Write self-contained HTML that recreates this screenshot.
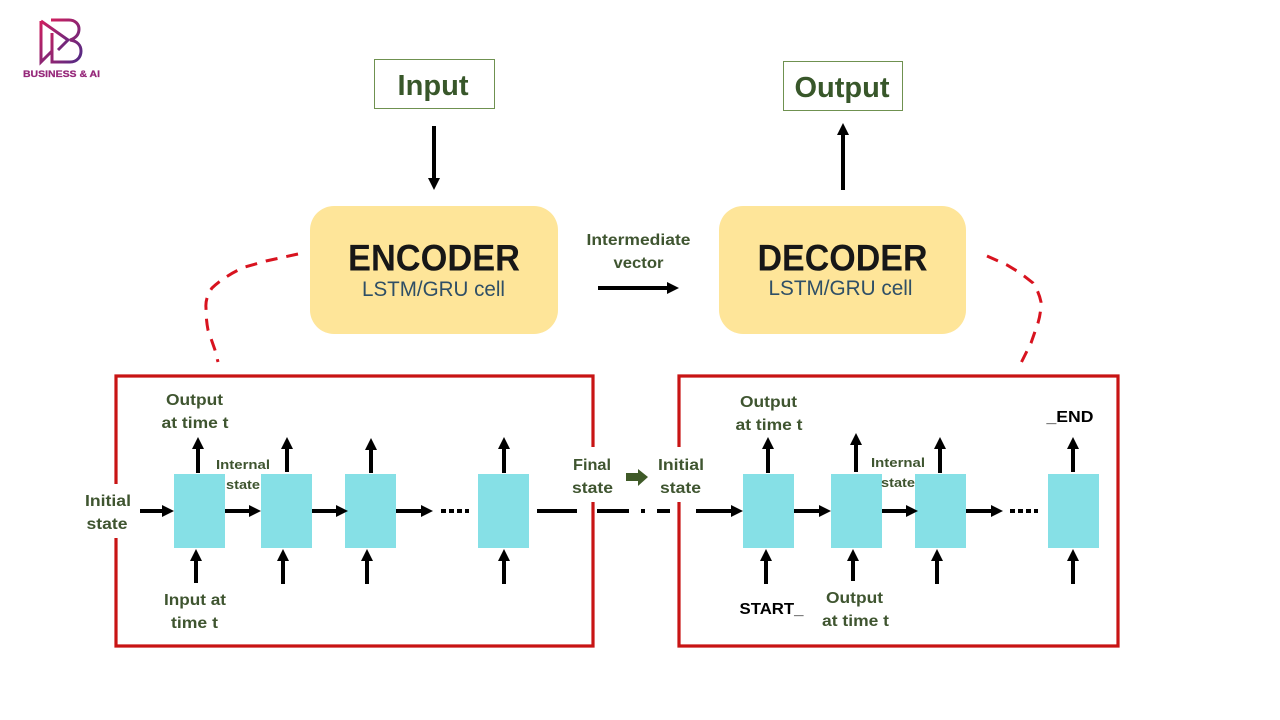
<!DOCTYPE html>
<html><head><meta charset="utf-8"><style>
html,body{margin:0;padding:0;background:#fff;width:1280px;height:720px;overflow:hidden}
svg{display:block}
text{font-family:"Liberation Sans",sans-serif;font-weight:bold;text-anchor:middle;fill:#3f5530}
.l{font-size:16px}
.s{font-size:13px}
.k{fill:#000}
.b{fill:#2f4f66;font-weight:normal;font-size:21px}
.h{fill:#171717;font-size:37px}
.c{fill:#86e0e6}
.a{stroke:#000;stroke-width:4;fill:none}
.r{stroke:#c81414;stroke-width:3.2;fill:none}
.d{stroke:#d8131f;stroke-width:3;fill:none;stroke-dasharray:12 9}
</style></head><body>
<svg width="1280" height="720" viewBox="0 0 1280 720" xmlns="http://www.w3.org/2000/svg">
<defs>
<linearGradient id="g" x1="0" y1="0" x2="1" y2="1"><stop offset="0" stop-color="#cf1f5e"/><stop offset="1" stop-color="#4f2a86"/></linearGradient>
</defs>
<!-- logo -->
<g fill="none" stroke="url(#g)" stroke-width="3">
<path d="M41 21V62L52 51M41 21L68 40L58 50"/>
<path d="M52 33V62H70C77 62 81 57 81 51C81 45 77 41 70 40C76 38 79 34 79 29C79 24 75 20 69 20H51"/>
</g>
<text x="61.500" y="77" style="font-size:9.500px;fill:#96287a;stroke:#96287a;stroke-width:.25" textLength="77" lengthAdjust="spacingAndGlyphs">BUSINESS &amp; AI</text>

<!-- top boxes -->
<rect x="374.500" y="59.500" width="120" height="49" fill="#fff" stroke="#6f9150" stroke-width="1"/>
<text x="433" y="95" style="font-size:29px;fill:#38572a" textLength="71" lengthAdjust="spacingAndGlyphs">Input</text>
<rect x="783.500" y="61.500" width="119" height="49" fill="#fff" stroke="#6f9150" stroke-width="1"/>
<text x="842" y="97" style="font-size:29px;fill:#38572a" textLength="95" lengthAdjust="spacingAndGlyphs">Output</text>

<path class="a" d="M434 126V179"/><polygon points="428,178 440,178 434,190"/>
<path class="a" d="M843 190V134"/><polygon points="837,135 849,135 843,123"/>

<!-- encoder / decoder -->
<rect x="310" y="206" width="248" height="128" rx="24" fill="#fee599"/>
<rect x="719" y="206" width="247" height="128" rx="24" fill="#fee599"/>
<text x="434" y="270.500" class="h" textLength="172" lengthAdjust="spacingAndGlyphs">ENCODER</text>
<text x="433.500" y="296" class="b" textLength="143" lengthAdjust="spacingAndGlyphs">LSTM/GRU cell</text>
<text x="842.500" y="270.500" class="h" textLength="170" lengthAdjust="spacingAndGlyphs">DECODER</text>
<text x="840.500" y="295" class="b" textLength="144" lengthAdjust="spacingAndGlyphs">LSTM/GRU cell</text>

<text x="638.500" y="245" class="l" textLength="104" lengthAdjust="spacingAndGlyphs">Intermediate</text>
<text x="638.500" y="268" class="l" textLength="50" lengthAdjust="spacingAndGlyphs">vector</text>
<path class="a" d="M598 288H668"/><polygon points="667,282 667,294 679,288"/>

<!-- dashed curves -->
<path class="d" d="M298 254L266 261L245 267Q226 275 212 288Q205 298 206 308Q206 320 208 330L215 350L218 362"/>
<path class="d" d="M987 256L1007 265L1017 271L1024 276L1033 283Q1039 292 1041 302Q1041 313 1038 323L1031 343L1021 363"/>

<!-- red frames -->
<path class="r" d="M116 484V376H593V447M593 502V646H116V538"/>
<path class="r" d="M679 447V376H1118V646H679V502"/>

<!-- cells -->
<rect class="c" x="174" y="474" width="51" height="74"/>
<rect class="c" x="261" y="474" width="51" height="74"/>
<rect class="c" x="345" y="474" width="51" height="74"/>
<rect class="c" x="478" y="474" width="51" height="74"/>
<rect class="c" x="743" y="474" width="51" height="74"/>
<rect class="c" x="831" y="474" width="51" height="74"/>
<rect class="c" x="915" y="474" width="51" height="74"/>
<rect class="c" x="1048" y="474" width="51" height="74"/>

<!-- horizontal lines -->
<path class="a" d="M140 511H164M225 511H251M312 511H338M396 511H422M537 511H577M597 511H629M641 511H645M657 511H670M696 511H733M794 511H821M882 511H908M966 511H993"/>
<path class="a" d="M441 511H469M1010 511H1038" stroke-dasharray="5 3"/>
<polygon points="162,505 162,517 174,511"/>
<polygon points="249,505 249,517 261,511"/>
<polygon points="336,505 336,517 348,511"/>
<polygon points="421,505 421,517 433,511"/>
<polygon points="731,505 731,517 743,511"/>
<polygon points="819,505 819,517 831,511"/>
<polygon points="906,505 906,517 918,511"/>
<polygon points="991,505 991,517 1003,511"/>

<!-- vertical arrows -->
<path class="a" d="M198 473V448M287 472V448M371 473V449M504 473V448M768 473V448M856 472V444M940 473V448M1073 472V447"/>
<polygon points="192,449 204,449 198,437"/>
<polygon points="281,449 293,449 287,437"/>
<polygon points="365,450 377,450 371,438"/>
<polygon points="498,449 510,449 504,437"/>
<polygon points="762,449 774,449 768,437"/>
<polygon points="850,445 862,445 856,433"/>
<polygon points="934,449 946,449 940,437"/>
<polygon points="1067,449 1079,449 1073,437"/>
<path class="a" d="M196 583V560M283 584V560M367 584V560M504 584V560M766 584V560M853 581V560M937 584V560M1073 584V560"/>
<polygon points="190,561 202,561 196,549"/>
<polygon points="277,561 289,561 283,549"/>
<polygon points="361,561 373,561 367,549"/>
<polygon points="498,561 510,561 504,549"/>
<polygon points="760,561 772,561 766,549"/>
<polygon points="847,561 859,561 853,549"/>
<polygon points="931,561 943,561 937,549"/>
<polygon points="1067,561 1079,561 1073,549"/>

<!-- green block arrow -->
<polygon points="626,473 638,473 638,469 648,477 638,486 638,481 626,481" fill="#3f5a28"/>

<!-- labels left -->
<text x="194.500" y="405" class="l" textLength="57" lengthAdjust="spacingAndGlyphs">Output</text>
<text x="195" y="428" class="l" textLength="67" lengthAdjust="spacingAndGlyphs">at time t</text>
<text x="243" y="469" class="s" textLength="54" lengthAdjust="spacingAndGlyphs">Internal</text>
<text x="243" y="489" class="s" textLength="34" lengthAdjust="spacingAndGlyphs">state</text>
<text x="108" y="506" class="l" textLength="46" lengthAdjust="spacingAndGlyphs">Initial</text>
<text x="107" y="529" class="l" textLength="41" lengthAdjust="spacingAndGlyphs">state</text>
<text x="195" y="605" class="l" textLength="62" lengthAdjust="spacingAndGlyphs">Input at</text>
<text x="194.500" y="628" class="l" textLength="47" lengthAdjust="spacingAndGlyphs">time t</text>

<!-- middle labels -->
<text x="592" y="470" class="l" textLength="38" lengthAdjust="spacingAndGlyphs">Final</text>
<text x="592.500" y="493" class="l" textLength="41" lengthAdjust="spacingAndGlyphs">state</text>
<text x="681" y="470" class="l" textLength="46" lengthAdjust="spacingAndGlyphs">Initial</text>
<text x="680.500" y="493" class="l" textLength="41" lengthAdjust="spacingAndGlyphs">state</text>

<!-- labels right -->
<text x="768.500" y="407" class="l" textLength="57" lengthAdjust="spacingAndGlyphs">Output</text>
<text x="769" y="430" class="l" textLength="67" lengthAdjust="spacingAndGlyphs">at time t</text>
<text x="898" y="467" class="s" textLength="54" lengthAdjust="spacingAndGlyphs">Internal</text>
<text x="898" y="487" class="s" textLength="34" lengthAdjust="spacingAndGlyphs">state</text>
<text x="1070" y="422" class="l k" textLength="47" lengthAdjust="spacingAndGlyphs">_END</text>
<text x="771.500" y="614" class="l k" textLength="64" lengthAdjust="spacingAndGlyphs">START_</text>
<text x="854.500" y="603" class="l" textLength="57" lengthAdjust="spacingAndGlyphs">Output</text>
<text x="855.500" y="626" class="l" textLength="67" lengthAdjust="spacingAndGlyphs">at time t</text>
</svg>
</body></html>
